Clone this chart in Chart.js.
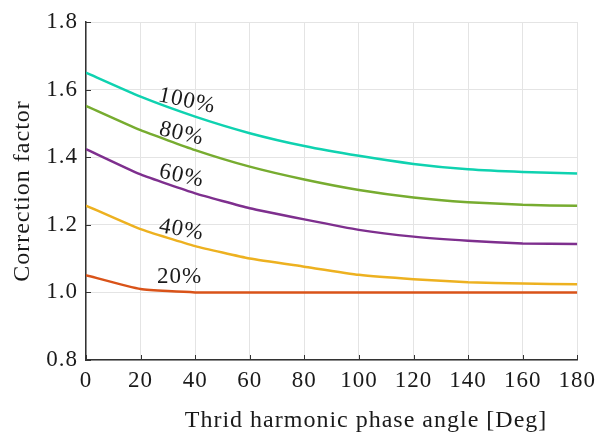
<!DOCTYPE html>
<html>
<head>
<meta charset="utf-8">
<script src="https://cdn.jsdelivr.net/npm/chart.js@4.4.0/dist/chart.umd.min.js"></script>
<style>
  html, body { margin: 0; padding: 0; background: #ffffff; }
  #wrap { width: 603px; height: 437px; position: relative; }
</style>
</head>
<body>
<div id="wrap"><canvas id="chart"></canvas></div>
<script>
// ================================================================
// DATA
// ================================================================

const phaseAngles = [0, 20, 40, 60, 80, 100, 120, 140, 160, 180];

const series100 = [1.650, 1.579, 1.520, 1.471, 1.433, 1.404, 1.380, 1.364, 1.356, 1.352];
const series80  = [1.552, 1.480, 1.421, 1.372, 1.334, 1.303, 1.281, 1.267, 1.259, 1.256];
const series60  = [1.424, 1.349, 1.293, 1.249, 1.216, 1.185, 1.165, 1.153, 1.145, 1.143];
const series40  = [1.257, 1.187, 1.137, 1.100, 1.076, 1.052, 1.039, 1.030, 1.026, 1.024];
const series20  = [1.051, 1.010, 1.000, 1.000, 1.000, 1.000, 1.000, 1.000, 1.000, 1.000];

const seriesNames = ['100%', '80%', '60%', '40%', '20%'];

const xTicks = [0, 20, 40, 60, 80, 100, 120, 140, 160, 180];
const yTicks = [0.8, 1.0, 1.2, 1.4, 1.6, 1.8];

const xTitle = 'Thrid harmonic phase angle [Deg]';
const yTitle = 'Correction factor';

// ================================================================
// STYLE
// ================================================================

const COLORS = {
    p100: '#0fd2b0',
    p80: '#77ac30',
    p60: '#7e2f8e',
    p40: '#edb120',
    p20: '#d95319',
    grid: '#e4e4e4',
    axis: '#333333',
    text: '#1a1a1a'
};

const FONT_FAMILY = '"Liberation Serif", "DejaVu Serif", serif';
const LETTER_SPACING = '1px';

// inline labels placed on the curves (data coordinates + rotation)
const curveLabels = [
    { text: seriesNames[0], x: 37, y: 1.566, angle: 12 },
    { text: seriesNames[1], x: 35, y: 1.469, angle: 13 },
    { text: seriesNames[2], x: 35, y: 1.344, angle: 12 },
    { text: seriesNames[3], x: 35, y: 1.185, angle: 10 },
    { text: seriesNames[4], x: 34.3, y: 1.046, angle: 0 }
];

function toPoints(values) {
    return phaseAngles.map((x, i) => ({ x: x, y: values[i] }));
}

function makeDataset(label, values, color) {
    return {
        label: label,
        data: toPoints(values),
        borderColor: color,
        backgroundColor: color,
        borderWidth: 2.5,
        pointRadius: 0,
        tension: 0.15,
        fill: false
    };
}

// ================================================================
// PLUGINS
// ================================================================

// Slightly wider text, closer to the LaTeX look of the original
const letterSpacing = {
    id: 'letterSpacing',
    beforeLayout(chart) { chart.ctx.letterSpacing = LETTER_SPACING; },
    beforeDraw(chart) { chart.ctx.letterSpacing = LETTER_SPACING; }
};

// Short inward tick marks on the left and bottom axes (MATLAB style)
const innerTicks = {
    id: 'innerTicks',
    afterDatasetsDraw(chart) {
        const { ctx, chartArea, scales } = chart;
        ctx.save();
        ctx.strokeStyle = COLORS.axis;
        ctx.lineWidth = 1;
        xTicks.forEach(v => {
            const px = Math.round(scales.x.getPixelForValue(v)) + 0.5;
            ctx.beginPath();
            ctx.moveTo(px, chartArea.bottom);
            ctx.lineTo(px, chartArea.bottom - 5);
            ctx.stroke();
        });
        yTicks.forEach(v => {
            const py = Math.round(scales.y.getPixelForValue(v)) + 0.5;
            ctx.beginPath();
            ctx.moveTo(chartArea.left, py);
            ctx.lineTo(chartArea.left + 5, py);
            ctx.stroke();
        });
        ctx.restore();
    }
};

// Rotated text labels next to each curve
const curveLabelPlugin = {
    id: 'curveLabels',
    afterDatasetsDraw(chart) {
        const { ctx, scales } = chart;
        ctx.save();
        ctx.fillStyle = COLORS.text;
        ctx.font = '23px ' + FONT_FAMILY;
        ctx.textAlign = 'center';
        ctx.textBaseline = 'middle';
        curveLabels.forEach(l => {
            const px = scales.x.getPixelForValue(l.x);
            const py = scales.y.getPixelForValue(l.y);
            ctx.save();
            ctx.translate(px, py);
            ctx.rotate(l.angle * Math.PI / 180);
            ctx.fillText(l.text, 0, 0);
            ctx.restore();
        });
        ctx.restore();
    }
};

// x axis title, sitting a bit right of the plot centre as in the original
const xTitlePlugin = {
    id: 'xTitle',
    afterDraw(chart) {
        const { ctx, chartArea } = chart;
        ctx.save();
        ctx.fillStyle = COLORS.text;
        ctx.font = '24px ' + FONT_FAMILY;
        ctx.textAlign = 'center';
        ctx.textBaseline = 'alphabetic';
        const cx = chartArea.left + (chartArea.right - chartArea.left) * 0.57;
        ctx.fillText(xTitle, cx, chart.height - 10);
        ctx.restore();
    }
};

// ================================================================
// CHART
// ================================================================

new Chart(document.getElementById('chart'), {
    type: 'line',
    data: {
        datasets: [
            makeDataset(seriesNames[0], series100, COLORS.p100),
            makeDataset(seriesNames[1], series80, COLORS.p80),
            makeDataset(seriesNames[2], series60, COLORS.p60),
            makeDataset(seriesNames[3], series40, COLORS.p40),
            makeDataset(seriesNames[4], series20, COLORS.p20)
        ]
    },
    options: {
        responsive: true,
        maintainAspectRatio: false,
        animation: false,
        layout: {
            padding: { top: 22, right: 23, bottom: 0, left: 0 }
        },
        plugins: {
            legend: { display: false },
            tooltip: { enabled: false }
        },
        scales: {
            x: {
                type: 'linear',
                min: 0,
                max: 180,
                afterFit(scale) { scale.height = 77; },
                afterBuildTicks(scale) {
                    scale.ticks = xTicks.map(v => ({ value: v }));
                },
                grid: {
                    color: COLORS.grid,
                    lineWidth: 1,
                    drawTicks: false
                },
                border: { display: true, color: COLORS.axis, width: 1.5 },
                ticks: {
                    color: COLORS.text,
                    font: { family: FONT_FAMILY, size: 23 },
                    padding: 7,
                    maxRotation: 0,
                    callback: v => String(v)
                },
                title: { display: false }
            },
            y: {
                type: 'linear',
                min: 0.8,
                max: 1.8,
                afterFit(scale) { scale.width = 86; },
                afterBuildTicks(scale) {
                    scale.ticks = yTicks.map(v => ({ value: v }));
                },
                grid: {
                    color: COLORS.grid,
                    lineWidth: 1,
                    drawTicks: false
                },
                border: { display: true, color: COLORS.axis, width: 1.5 },
                ticks: {
                    color: COLORS.text,
                    font: { family: FONT_FAMILY, size: 23 },
                    padding: 8,
                    callback: v => v.toFixed(1)
                },
                title: {
                    display: true,
                    text: yTitle,
                    color: COLORS.text,
                    font: { family: FONT_FAMILY, size: 24 },
                    padding: { top: 8, bottom: 0 }
                }
            }
        }
    },
    plugins: [letterSpacing, innerTicks, curveLabelPlugin, xTitlePlugin]
});
</script>
</body>
</html>
